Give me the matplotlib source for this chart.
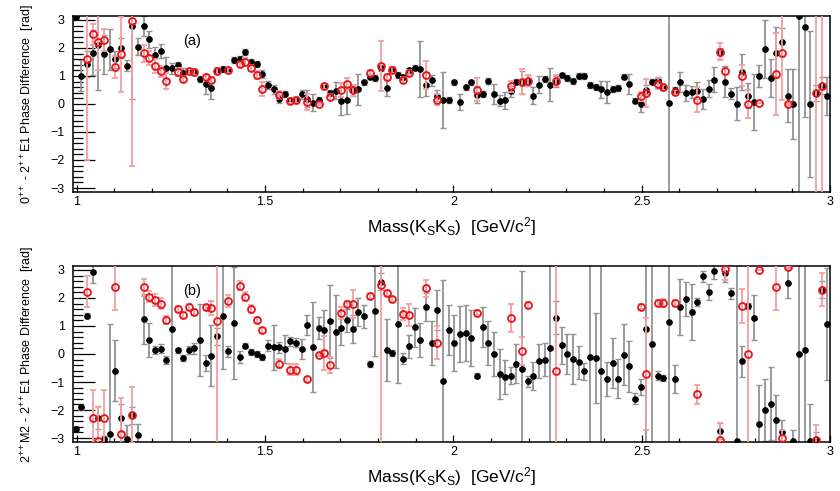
import numpy as np
import matplotlib
matplotlib.use("Agg")
import matplotlib.pyplot as plt
from matplotlib.ticker import MultipleLocator

plt.rcParams['font.family'] = ['Liberation Sans', 'DejaVu Sans']
plt.rcParams['mathtext.fontset'] = 'custom'
plt.rcParams['mathtext.rm'] = 'Liberation Sans'
plt.rcParams['mathtext.it'] = 'Liberation Sans:italic'

# 15 MeV bins, centres from 0.9975 to 2.9925 GeV
mass = 0.9975 + 0.015 * np.arange(134)

# (a) 0++ - 2++E1, black set
a_val = [3.09, 1.01, 1.43, 1.83, 2.10, 1.77, 1.95, 1.60, 2.00, 1.37,
         2.78, 2.05, 2.79, 2.31, 1.75, 1.90, 1.28, 1.28, 1.40, 1.12,
         1.16, 1.14, 0.89, 0.71, 0.58, 1.18, 1.25, 1.20, 1.57, 1.60,
         1.85, 1.51, 1.42, 1.08, 0.67, 0.52, 0.18, 0.36, 0.13, 0.14,
         0.34, 0.19, 0.04, 0.15, 0.65, 0.39, 0.47, 0.12, 0.15, 0.49,
         0.53, 0.77, 0.98, 0.92, 1.28, 0.57, 1.24, 1.04, 0.95, 1.20,
         1.30, 1.25, 0.69, 0.84, 0.30, 0.15, 0.15, 0.77, 0.07, 0.59,
         0.77, 0.33, 0.36, 0.83, 0.36, 0.12, 0.13, 0.45, 0.80, 0.77,
         0.83, 0.30, 0.69, 0.90, 0.69, 0.80, 1.02, 0.92, 0.83, 1.00,
         1.00, 0.67, 0.60, 0.53, 0.43, 0.53, 0.57, 0.98, 0.71, 0.12,
         0.01, 0.51, 0.80, 0.86, 0.59, 0.04, 0.50, 0.78, 0.39, 0.43,
         0.47, 0.18, 0.54, 0.86, 1.81, 0.79, 0.37, 0.01, 1.13, 0.29,
         0.06, 1.00, 1.96, 0.92, 1.83, 2.22, 0.29, 0.00, 3.13, 2.73,
         0.00, 0.39, 0.65, 0.29]
a_err = [0.05, 0.56, 0.45, 0.8, 1.6, 0.7, 0.72, 0.3, 0.35, 0.2,
         2.6, 0.3, 0.35, 0.3, 0.3, 0.25, 0.4, 0.2, 0.1, 0.15,
         0.1, 0.1, 0.1, 0.35, 0.4, 0.1, 0.1, 0.1, 0.1, 0.1,
         0.1, 0.1, 0.1, 0.15, 0.15, 0.15, 0.15, 0.1, 0.1, 0.1,
         0.15, 0.3, 0.3, 0.1, 0.1, 0.1, 0.3, 0.5, 0.5, 0.2,
         0.55, 0.1, 0.1, 0.1, 0.1, 0.3, 0.1, 0.1, 0.1, 0.1,
         0.1, 1.0, 0.4, 0.2, 0.2, 1.0, 0.1, 0.1, 0.3, 0.1,
         0.1, 0.3, 0.1, 0.1, 0.35, 0.2, 0.3, 0.2, 0.1, 0.4,
         0.2, 0.3, 0.3, 0.1, 0.6, 0.2, 0.1, 0.1, 0.1, 0.1,
         0.1, 0.1, 0.1, 0.3, 0.4, 0.1, 0.1, 0.1, 0.35, 0.1,
         0.3, 0.15, 0.1, 0.1, 0.1, 6.5, 0.1, 0.35, 0.3, 0.2,
         0.3, 0.35, 0.3, 0.45, 0.2, 0.55, 0.2, 0.6, 0.64, 0.45,
         1.0, 0.38, 1.03, 0.67, 0.9, 0.5, 0.95, 1.25, 6.5, 3.2,
         2.6, 0.3, 0.3, 0.68]

# bins where the second (red) solution is shown, same in both panels
red_bin = [2, 3, 4, 5, 7, 8, 10, 12, 13, 14, 15, 16, 18, 19, 20, 21, 23, 24, 25, 27,
           29, 30, 31, 32, 33, 36, 38, 39, 41, 43, 44, 45, 47, 48, 49, 52, 54, 55, 56, 58,
           59, 62, 64, 71, 77, 79, 80, 85, 100, 101, 103, 104, 106, 110, 114, 115, 118, 119, 121, 124,
           125, 126, 131, 132]
a_red_val = [1.61, 2.48, 2.2, 2.28, 1.33, 1.77, 2.97, 1.81, 1.63, 1.36, 1.17, 0.82, 1.15, 0.89, 1.16, 1.14, 0.95, 0.86, 1.18, 1.2,
             1.41, 1.5, 1.28, 1.04, 0.53, 0.31, 0.12, 0.14, 0.07, 0.0, 0.63, 0.25, 0.51, 0.71, 0.49, 1.12, 1.36, 0.96, 1.22, 0.86,
             1.12, 1.05, 0.15, 0.51, 0.63, 0.79, 0.83, 0.83, 0.27, 0.39, 0.73, 0.59, 0.41, 0.15, 1.87, 1.18, 1.01, 0.0, 0.03, 1.07,
             1.83, 0.0, 0.39, 0.65]
a_red_err = [3.6, 0.36, 1.0, 0.4, 0.4, 1.35, 5.2, 0.3, 0.25, 0.25, 0.2, 0.3, 0.15, 0.1, 0.1, 0.1, 0.1, 0.1, 0.1, 0.1,
             0.1, 0.15, 0.1, 0.15, 0.25, 0.15, 0.1, 0.1, 0.3, 0.05, 0.1, 0.1, 0.25, 0.2, 0.2, 0.1, 0.9, 0.1, 0.1, 0.1,
             0.1, 0.5, 0.2, 0.4, 0.2, 0.45, 0.2, 0.2, 0.15, 0.5, 0.2, 0.1, 0.1, 0.45, 0.3, 0.1, 0.38, 0.5, 0.0, 1.46,
             1.7, 0.05, 6.5, 6.5]

# (b) 2++M2 - 2++E1, black set
b_val = [-2.66, -1.91, 1.37, 2.93, -2.27, -3.04, -2.84, -0.59, -2.27, -3.04,
         -2.19, -2.9, 1.24, 0.51, 0.15, 0.19, -0.22, 0.9, 0.13, -0.14,
         0.15, 0.2, 0.5, -0.32, -0.06, 0.63, 1.36, 0.09, 1.12, -0.11,
         0.3, 0.07, 0.0, -0.11, 0.3, 0.24, 0.24, 0.19, 0.45, 0.41,
         0.18, 1.04, 0.24, 0.92, 0.86, 1.16, 0.8, 0.92, 1.2, 0.9,
         1.5, 1.34, -0.36, 1.54, 2.58, 0.15, 0.04, 1.08, -0.17, 0.27,
         0.95, 0.51, 1.67, 0.39, 1.57, -0.97, 0.86, 0.39, 0.71, 0.75,
         0.57, -0.77, 0.96, 0.39, 0.0, -0.71, -0.82, -0.77, -0.34, -0.52,
         -0.97, -0.79, -0.24, -0.2, 0.21, 1.3, 0.31, 0.0, -0.18, -0.3,
         -0.62, -0.12, -0.14, -0.62, -0.89, -0.32, -0.88, -0.02, -0.44, -1.59,
         -1.18, 0.9, 0.37, -0.77, -0.85, 1.15, -0.88, 1.69, 1.96, 1.51,
         1.85, 2.78, 2.21, 2.97, -2.75, 2.88, 2.17, -3.12, -0.26, 1.72,
         1.3, -2.51, -2.01, -1.77, -2.37, -2.8, 2.54, -3.1, 0.0, 0.15,
         -3.1, -3.08, 2.3, 1.07]
b_err = [0.1, 0.1, 0.1, 0.4, 0.4, 0.1, 3.9, 1.1, 0.5, 0.5,
         0.3, 0.4, 0.9, 0.6, 0.15, 0.15, 0.15, 6.5, 0.1, 0.1,
         0.15, 0.2, 1.3, 0.3, 1.1, 0.3, 1.9, 0.2, 2.0, 0.2,
         0.1, 0.1, 0.1, 0.1, 0.2, 0.8, 0.2, 0.5, 0.15, 0.15,
         0.35, 0.35, 1.6, 0.4, 0.7, 1.3, 1.3, 0.6, 0.4, 0.5,
         0.5, 0.4, 0.1, 1.6, 0.3, 1.1, 0.1, 2.1, 0.2, 0.4,
         0.7, 0.6, 0.5, 0.8, 0.7, 3.6, 0.9, 1.0, 1.0, 1.0,
         1.0, 0.1, 0.7, 0.8, 0.8, 0.9, 0.6, 0.3, 0.7, 3.5,
         0.2, 0.5, 0.6, 0.6, 6.5, 0.6, 0.65, 0.7, 0.9, 0.6,
         0.3, 6.5, 1.6, 6.5, 0.6, 0.9, 0.7, 1.1, 0.9, 0.2,
         0.3, 6.5, 6.5, 0.15, 0.1, 6.5, 0.5, 1.0, 0.6, 1.0,
         0.15, 0.2, 0.3, 0.3, 0.3, 0.3, 0.2, 6.5, 0.55, 0.1,
         0.8, 1.4, 1.1, 1.3, 0.9, 0.45, 0.55, 0.4, 6.5, 6.5,
         1.3, 0.3, 0.3, 2.0]
b_red_val = [2.22, -2.3, -3.1, -2.3, 2.38, -2.86, -2.19, 2.38, 2.05, 1.93, 1.79, 1.22, 1.6, 1.4, 1.68, 1.5, 1.66, 1.64, 1.18, 1.89,
             2.44, 2.05, 1.6, 1.22, 0.84, -0.34, -0.56, -0.56, -0.91, -0.02, 0.04, -0.39, 1.46, 1.78, 1.78, 2.07, 2.46, 2.17, 1.95, 1.43,
             1.4, 2.34, 0.41, 1.48, 1.28, 0.09, 1.75, -0.62, 1.69, -0.71, 1.83, 1.83, 1.83, -1.44, -3.07, 3.04, 1.72, 0.0, 2.99, 2.38,
             -3.01, 3.1, -3.08, 2.3]
b_red_err = [0.56, 1.0, 1.2, 1.0, 0.8, 1.3, 1.0, 0.3, 0.2, 0.2, 0.2, 0.15, 0.1, 0.1, 0.1, 0.1, 0.1, 0.25, 6.5, 0.2,
             0.15, 0.15, 0.15, 0.1, 0.1, 0.15, 0.2, 0.2, 0.1, 0.05, 0.6, 0.3, 0.2, 0.1, 0.5, 0.1, 6.5, 0.1, 0.1, 0.2,
             0.4, 0.3, 0.6, 0.1, 0.5, 0.5, 0.1, 6.5, 0.1, 2.0, 0.1, 0.15, 0.1, 0.35, 0.6, 0.4, 0.6, 6.5, 0.0, 0.8,
             0.3, 0.05, 0.55, 0.6]

ylabels = [r'0$^{++}$ - 2$^{++}$E1 Phase Difference  [rad]',
           r'2$^{++}$M2 - 2$^{++}$E1 Phase Difference  [rad]']
xlabel = r'Mass(K$_{\rm S}$K$_{\rm S}$)  [GeV/c$^{\rm 2}$]'
tags = ['(a)', '(b)']

fig = plt.figure(figsize=(8.4, 4.91), dpi=100)
ax_a = fig.add_axes([0.0869, 0.609, 0.9012, 0.3585])
ax_b = fig.add_axes([0.0869, 0.0998, 0.9012, 0.3585])

panels = [(ax_a, a_val, a_err, a_red_val, a_red_err),
          (ax_b, b_val, b_err, b_red_val, b_red_err)]

red_mass = mass[red_bin]
for k, (ax, v, e, rv, re_) in enumerate(panels):
    ax.errorbar(mass, v, yerr=e, fmt='o', color='black', ms=3.8,
                ecolor='#939393', elinewidth=1.3, capsize=2, capthick=1.0, zorder=2)
    ax.errorbar(red_mass, rv, yerr=re_, fmt='o', mfc='none', mec='#e8141c', mew=1.3,
                ms=5.0, ecolor='#f2a0a0', elinewidth=1.3, capsize=2, capthick=1.0, zorder=3)

    ax.set_xlim(0.99, 3.0)
    ax.set_ylim(-np.pi, np.pi)
    ax.xaxis.set_minor_locator(MultipleLocator(0.1))
    ax.yaxis.set_major_locator(MultipleLocator(1))
    ax.yaxis.set_minor_locator(MultipleLocator(0.2))
    ax.set_xticks([1, 1.5, 2, 2.5, 3])
    ax.set_xticklabels(['1', '1.5', '2', '2.5', '3'])
    ax.tick_params(axis='y', which='major', direction='in', length=16, width=0.9, labelsize=9, pad=6)
    ax.tick_params(axis='y', which='minor', direction='in', length=7, width=0.9)
    ax.tick_params(axis='x', which='major', direction='in', length=5, width=0.9, labelsize=9, pad=3)
    ax.tick_params(axis='x', which='minor', direction='in', length=3, width=0.9)
    for s in ax.spines.values():
        s.set_linewidth(1.1)

    ax.set_xlabel(xlabel, fontsize=12.5, labelpad=5)
    ax.set_ylabel(ylabels[k], fontsize=9)
    ax.yaxis.set_label_coords(-0.047, 0.5)
    ax.text(0.157, 0.858, tags[k], transform=ax.transAxes, fontsize=10.5,
            ha='center', va='center')

fig.savefig('out.png', dpi=100)
